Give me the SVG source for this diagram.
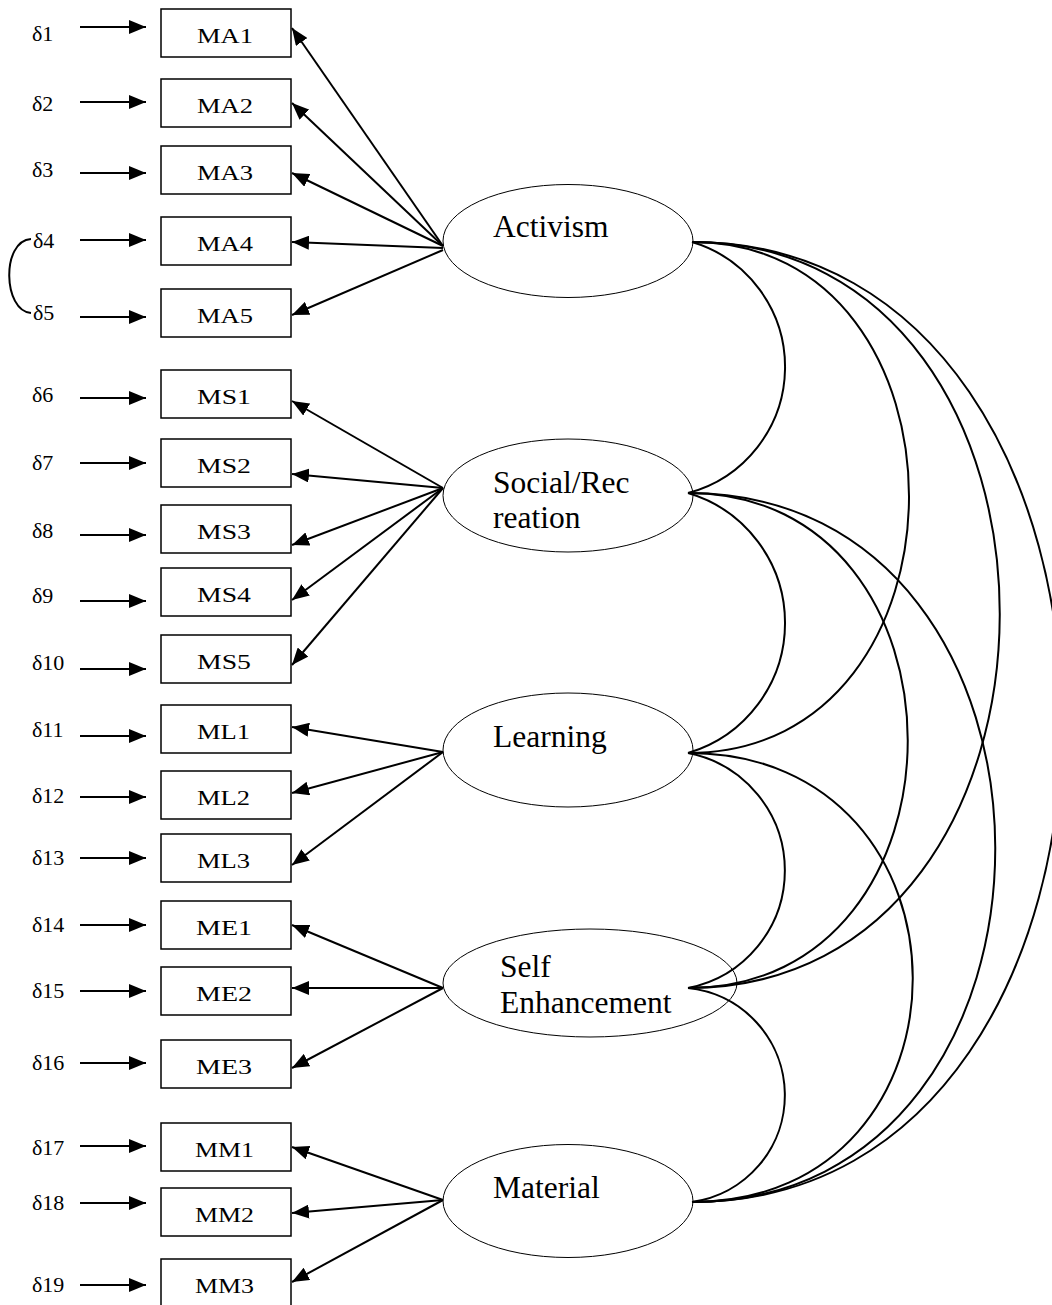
<svg xmlns="http://www.w3.org/2000/svg" width="1052" height="1305" viewBox="0 0 1052 1305">
  <defs>
    <marker id="ah" markerUnits="userSpaceOnUse" markerWidth="18" markerHeight="14" refX="17" refY="7" orient="auto" viewBox="0 0 18 14">
      <path d="M0,0 L17,7 L0,14 z" fill="#000"/>
    </marker>
  </defs>
  <style>
    .box{fill:#fff;stroke:#000;stroke-width:1.5}
    .lat{fill:#fff;stroke:#000;stroke-width:1}
    .ind{font-family:"Liberation Serif","Times New Roman",serif;font-size:20px;fill:#000}
    .lbl{font-family:"Liberation Serif","Times New Roman",serif;font-size:31.5px;fill:#000}
    .err{font-family:"Liberation Serif","Times New Roman",serif;font-size:22px;fill:#000}
    .arr{stroke:#000;stroke-width:2;fill:none;marker-end:url(#ah)}
    .cov{stroke:#000;stroke-width:2;fill:none}
  </style>
  <rect width="1052" height="1305" fill="#fff"/>

  <!-- error terms -->
  <g id="errors" class="err">
    <text x="32" y="41">δ1</text>
    <text x="32" y="111">δ2</text>
    <text x="32" y="177">δ3</text>
    <text x="33" y="248">δ4</text>
    <text x="33" y="320">δ5</text>
    <text x="32" y="402">δ6</text>
    <text x="32" y="470">δ7</text>
    <text x="32" y="538">δ8</text>
    <text x="32" y="603">δ9</text>
    <text x="32" y="670">δ10</text>
    <text x="32" y="737">δ11</text>
    <text x="32" y="803">δ12</text>
    <text x="32" y="865">δ13</text>
    <text x="32" y="932">δ14</text>
    <text x="32" y="998">δ15</text>
    <text x="32" y="1070">δ16</text>
    <text x="32" y="1155">δ17</text>
    <text x="32" y="1210">δ18</text>
    <text x="32" y="1292">δ19</text>
  </g>

  <!-- observed indicators -->
  <g id="MA1"><rect class="box" x="161" y="9" width="130" height="48"/><text class="ind" x="197" y="43" textLength="56" lengthAdjust="spacingAndGlyphs">MA1</text></g>
  <g id="MA2"><rect class="box" x="161" y="79" width="130" height="48"/><text class="ind" x="197" y="113" textLength="56" lengthAdjust="spacingAndGlyphs">MA2</text></g>
  <g id="MA3"><rect class="box" x="161" y="146" width="130" height="48"/><text class="ind" x="197" y="180" textLength="56" lengthAdjust="spacingAndGlyphs">MA3</text></g>
  <g id="MA4"><rect class="box" x="161" y="217" width="130" height="48"/><text class="ind" x="197" y="251" textLength="56" lengthAdjust="spacingAndGlyphs">MA4</text></g>
  <g id="MA5"><rect class="box" x="161" y="289" width="130" height="48"/><text class="ind" x="197" y="323" textLength="56" lengthAdjust="spacingAndGlyphs">MA5</text></g>
  <g id="MS1"><rect class="box" x="161" y="370" width="130" height="48"/><text class="ind" x="197" y="404" textLength="54" lengthAdjust="spacingAndGlyphs">MS1</text></g>
  <g id="MS2"><rect class="box" x="161" y="439" width="130" height="48"/><text class="ind" x="197" y="473" textLength="54" lengthAdjust="spacingAndGlyphs">MS2</text></g>
  <g id="MS3"><rect class="box" x="161" y="505" width="130" height="48"/><text class="ind" x="197" y="539" textLength="54" lengthAdjust="spacingAndGlyphs">MS3</text></g>
  <g id="MS4"><rect class="box" x="161" y="568" width="130" height="48"/><text class="ind" x="197" y="602" textLength="54" lengthAdjust="spacingAndGlyphs">MS4</text></g>
  <g id="MS5"><rect class="box" x="161" y="635" width="130" height="48"/><text class="ind" x="197" y="669" textLength="54" lengthAdjust="spacingAndGlyphs">MS5</text></g>
  <g id="ML1"><rect class="box" x="161" y="705" width="130" height="48"/><text class="ind" x="197" y="739" textLength="53" lengthAdjust="spacingAndGlyphs">ML1</text></g>
  <g id="ML2"><rect class="box" x="161" y="771" width="130" height="48"/><text class="ind" x="197" y="805" textLength="53" lengthAdjust="spacingAndGlyphs">ML2</text></g>
  <g id="ML3"><rect class="box" x="161" y="834" width="130" height="48"/><text class="ind" x="197" y="868" textLength="53" lengthAdjust="spacingAndGlyphs">ML3</text></g>
  <g id="ME1"><rect class="box" x="161" y="901" width="130" height="48"/><text class="ind" x="196" y="935" textLength="56" lengthAdjust="spacingAndGlyphs">ME1</text></g>
  <g id="ME2"><rect class="box" x="161" y="967" width="130" height="48"/><text class="ind" x="196" y="1001" textLength="56" lengthAdjust="spacingAndGlyphs">ME2</text></g>
  <g id="ME3"><rect class="box" x="161" y="1040" width="130" height="48"/><text class="ind" x="196" y="1074" textLength="56" lengthAdjust="spacingAndGlyphs">ME3</text></g>
  <g id="MM1"><rect class="box" x="161" y="1123" width="130" height="48"/><text class="ind" x="195" y="1157" textLength="59" lengthAdjust="spacingAndGlyphs">MM1</text></g>
  <g id="MM2"><rect class="box" x="161" y="1188" width="130" height="48"/><text class="ind" x="195" y="1222" textLength="59" lengthAdjust="spacingAndGlyphs">MM2</text></g>
  <g id="MM3"><rect class="box" x="161" y="1259" width="130" height="48"/><text class="ind" x="195" y="1293" textLength="59" lengthAdjust="spacingAndGlyphs">MM3</text></g>

  <!-- latent factors -->
  <g id="Activism"><ellipse class="lat" cx="568" cy="241" rx="125" ry="56.5"/><text class="lbl" x="493" y="237">Activism</text></g>
  <g id="SocialRecreation"><ellipse class="lat" cx="568" cy="495.5" rx="125" ry="56.5"/><text class="lbl" x="493" y="493">Social/Rec</text><text class="lbl" x="493" y="528">reation</text></g>
  <g id="Learning"><ellipse class="lat" cx="568" cy="750" rx="125" ry="57"/><text class="lbl" x="493" y="747">Learning</text></g>
  <g id="SelfEnhancement"><ellipse class="lat" cx="590" cy="983" rx="147" ry="54"/><text class="lbl" x="500" y="977">Self</text><text class="lbl" x="500" y="1013">Enhancement</text></g>
  <g id="Material"><ellipse class="lat" cx="568" cy="1201" rx="125" ry="56.5"/><text class="lbl" x="493" y="1198">Material</text></g>

  <g id="connectors">
    <!-- error arrows into indicators -->
    <g class="arr">
      <line x1="80" y1="27" x2="146" y2="27"/>
      <line x1="80" y1="102" x2="146" y2="102"/>
      <line x1="80" y1="173" x2="146" y2="173"/>
      <line x1="80" y1="240" x2="146" y2="240"/>
      <line x1="80" y1="317" x2="146" y2="317"/>
      <line x1="80" y1="398" x2="146" y2="398"/>
      <line x1="80" y1="463" x2="146" y2="463"/>
      <line x1="80" y1="535" x2="146" y2="535"/>
      <line x1="80" y1="601" x2="146" y2="601"/>
      <line x1="80" y1="669" x2="146" y2="669"/>
      <line x1="80" y1="736" x2="146" y2="736"/>
      <line x1="80" y1="797" x2="146" y2="797"/>
      <line x1="80" y1="858" x2="146" y2="858"/>
      <line x1="80" y1="925" x2="146" y2="925"/>
      <line x1="80" y1="991" x2="146" y2="991"/>
      <line x1="80" y1="1063" x2="146" y2="1063"/>
      <line x1="80" y1="1146" x2="146" y2="1146"/>
      <line x1="80" y1="1203" x2="146" y2="1203"/>
      <line x1="80" y1="1285" x2="146" y2="1285"/>
    </g>
    <!-- correlated errors δ4 – δ5 -->
    <path class="cov" d="M31,239 C1,241 3,311 31,313" stroke-width="1.6"/>

    <!-- factor loadings -->
    <g class="arr">
      <line x1="443" y1="246" x2="292" y2="28"/>
      <line x1="443" y1="246" x2="292" y2="103"/>
      <line x1="443" y1="246" x2="292" y2="173"/>
      <line x1="443" y1="248" x2="292" y2="242"/>
      <line x1="443" y1="250" x2="292" y2="315"/>

      <line x1="443" y1="488" x2="292" y2="401"/>
      <line x1="443" y1="488" x2="292" y2="474"/>
      <line x1="443" y1="488" x2="292" y2="545"/>
      <line x1="443" y1="488" x2="292" y2="600"/>
      <line x1="443" y1="488" x2="292" y2="665"/>

      <line x1="443" y1="752" x2="292" y2="727"/>
      <line x1="443" y1="752" x2="292" y2="793"/>
      <line x1="443" y1="752" x2="292" y2="865"/>

      <line x1="443" y1="988" x2="292" y2="925"/>
      <line x1="443" y1="988" x2="292" y2="988"/>
      <line x1="443" y1="988" x2="292" y2="1068"/>

      <line x1="443" y1="1200" x2="292" y2="1147"/>
      <line x1="443" y1="1200" x2="292" y2="1213"/>
      <line x1="443" y1="1200" x2="292" y2="1282"/>
    </g>

    <!-- factor covariances -->
    <g class="cov">
      <path d="M692,242 A130.4,130.4 0 0 1 688,493"/>
      <path d="M688,493 A135.6,135.6 0 0 1 688,753"/>
      <path d="M688,753 A119.7,119.7 0 0 1 688,988"/>
      <path d="M688,988 A107.8,107.8 0 0 1 692,1202"/>
      <path d="M692,242 C982,242 982,753 688,753"/>
      <path d="M688,493 C981,493 981,988 688,988"/>
      <path d="M688,753 C987,753 987,1202 692,1202"/>
      <path d="M692,242 C1103,242 1103,988 688,988"/>
      <path d="M688,493 C1097,493 1097,1202 692,1202"/>
      <path d="M692,242 C1185,242 1185,1202 692,1202"/>
    </g>
  </g>
</svg>
